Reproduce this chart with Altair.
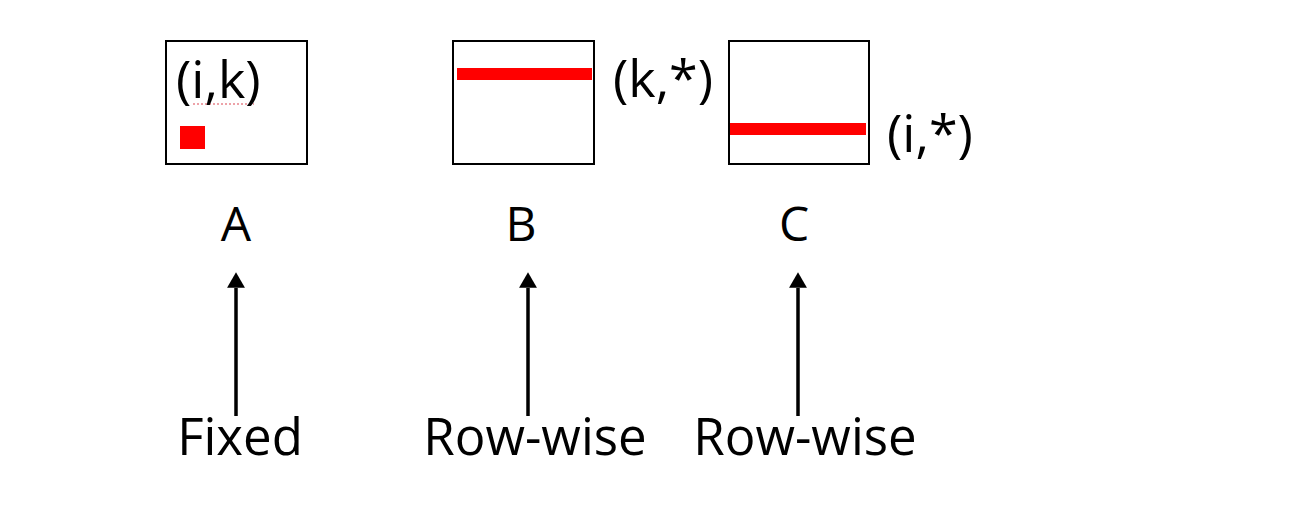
import pandas as pd
import altair as alt

FONT = "Open Sans"

# page-pixel layout (x right, y down)
box_names = ["A", "B", "C"]
box_left = [166, 453, 729]
box_right = [307, 594, 869]
box_top = [41, 41, 41]
box_bottom = [164, 164, 164]

# red marks inside the boxes: the (i,k) cell and the two rows
red_x1 = [180, 457, 730]
red_x2 = [205, 592, 866]
red_y1 = [126, 68, 123]
red_y2 = [149, 80, 135]

# index labels
idx_text = ["(i,k)", "(k,*)", "(i,*)"]
idx_x = [176, 613, 887]
idx_y = [98, 97, 152]

# letter labels under the boxes
letter_x = [236, 521, 794]
letter_y = 241

# arrows and the access-pattern labels
arrow_x = [236, 528, 798]
arrow_tip = 280
arrow_base = 416
access_text = ["Fixed", "Row-wise", "Row-wise"]
access_x = [240, 535, 805]
access_y = 455

boxes = pd.DataFrame({"name": box_names, "x1": box_left, "x2": box_right,
                      "y1": box_top, "y2": box_bottom})
reds = pd.DataFrame({"x1": red_x1, "x2": red_x2, "y1": red_y1, "y2": red_y2})
idx = pd.DataFrame({"t": idx_text, "x": idx_x, "y": idx_y})
letters = pd.DataFrame({"t": box_names, "x": letter_x, "y": [letter_y] * 3})
arrows = pd.DataFrame({"x": arrow_x, "y1": [arrow_tip + 8] * 3, "y2": [arrow_base] * 3,
                       "tip": [arrow_tip] * 3})
access = pd.DataFrame({"t": access_text, "x": access_x, "y": [access_y] * 3})
squiggle = pd.DataFrame({"x1": [193], "x2": [254], "y": [104]})

X = alt.Scale(domain=[8, 1300])
Y = alt.Scale(domain=[8, 502], reverse=True)


def xq(f, **kw):
    return alt.X(f, type="quantitative", scale=X, axis=None, **kw)


def yq(f, **kw):
    return alt.Y(f, type="quantitative", scale=Y, axis=None, **kw)


box_layer = alt.Chart(boxes).mark_rect(fill="white", stroke="black", strokeWidth=2).encode(
    x=xq("x1"), x2="x2", y=yq("y1"), y2="y2"
)
red_layer = alt.Chart(reds).mark_rect(color="#ff0000").encode(
    x=xq("x1"), x2="x2", y=yq("y1"), y2="y2"
)
squiggle_layer = alt.Chart(squiggle).mark_rule(
    color="#e8848c", strokeWidth=1.5, strokeDash=[2, 2]
).encode(x=xq("x1"), x2="x2", y=yq("y"))
idx_layer = alt.Chart(idx).mark_text(
    font=FONT, fontSize=52, align="left", baseline="alphabetic", color="black"
).encode(x=xq("x"), y=yq("y"), text="t:N")
letter_layer = alt.Chart(letters).mark_text(
    font=FONT, fontSize=48, align="center", baseline="alphabetic", color="black"
).encode(x=xq("x"), y=yq("y"), text="t:N")
shaft_layer = alt.Chart(arrows).mark_rule(color="black", strokeWidth=3.5).encode(
    x=xq("x"), y=yq("y1"), y2="y2"
)
head_layer = alt.Chart(arrows).mark_point(
    shape="triangle-up", filled=True, color="black", size=320, opacity=1
).encode(x=xq("x"), y=yq("tip"))
access_layer = alt.Chart(access).mark_text(
    font=FONT, fontSize=51, align="center", baseline="alphabetic", color="black"
).encode(x=xq("x"), y=yq("y"), text="t:N")

chart = (
    alt.layer(box_layer, red_layer, squiggle_layer, idx_layer, letter_layer,
              shaft_layer, head_layer, access_layer)
    .properties(width=1292, height=494, padding=0,
                autosize=alt.AutoSizeParams(type="none"))
    .configure_view(stroke=None)
)

chart.save("out.html", embed_options={"renderer": "svg", "actions": False})
